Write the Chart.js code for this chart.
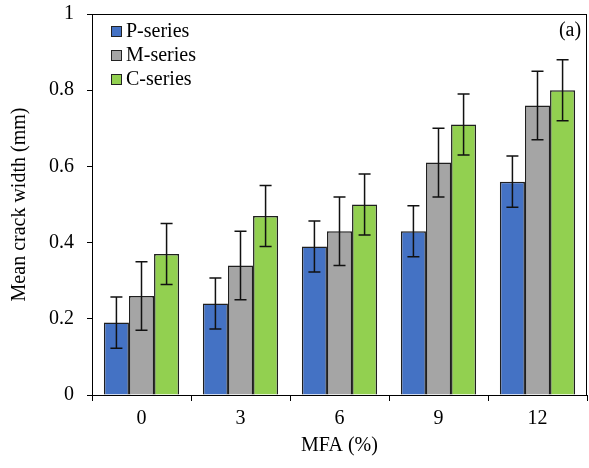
<!DOCTYPE html>
<html>
<head>
<meta charset="utf-8">
<title>Mean crack width vs MFA</title>
<script src="https://cdn.jsdelivr.net/npm/chart.js@4.4.1/dist/chart.umd.min.js"></script>
<style>
  html, body { margin: 0; padding: 0; background: #fff; }
  #chart { display: block; }
</style>
</head>
<body>
<canvas id="chart" width="589" height="468"></canvas>
<script>
const categories = ['0', '3', '6', '9', '12'];
const seriesNames = ['P-series', 'M-series', 'C-series'];
const pSeries = [0.19, 0.24, 0.39, 0.43, 0.56];
const mSeries = [0.26, 0.34, 0.43, 0.61, 0.76];
const cSeries = [0.37, 0.47, 0.50, 0.71, 0.80];
const pError = [0.067, 0.067, 0.067, 0.067, 0.067];
const mError = [0.09, 0.09, 0.09, 0.09, 0.09];
const cError = [0.08, 0.08, 0.08, 0.08, 0.08];
const yTickLabels = ['0', '0.2', '0.4', '0.6', '0.8', '1'];

const colors = ['#4472C4', '#A5A5A5', '#92D050'];
const FONT = '"Liberation Serif", "Times New Roman", serif';

// vertical error bars with flat caps, drawn on top of the bars
const errorBars = {
  id: 'errorBars',
  afterDatasetsDraw(chart) {
    const { ctx, scales: { y } } = chart;
    ctx.save();
    ctx.strokeStyle = '#111';
    ctx.lineWidth = 1.5;
    chart.data.datasets.forEach((ds, i) => {
      const meta = chart.getDatasetMeta(i);
      meta.data.forEach((bar, j) => {
        const v = ds.data[j], e = ds.errors[j];
        const top = y.getPixelForValue(v + e);
        const bottom = y.getPixelForValue(v - e);
        ctx.beginPath();
        ctx.moveTo(bar.x, top); ctx.lineTo(bar.x, bottom);
        ctx.moveTo(bar.x - 6, top); ctx.lineTo(bar.x + 6, top);
        ctx.moveTo(bar.x - 6, bottom); ctx.lineTo(bar.x + 6, bottom);
        ctx.stroke();
      });
    });
    ctx.restore();
  }
};

// box around the plot, legend in the upper left, panel tag in the upper right
const frameAndLegend = {
  id: 'frameAndLegend',
  afterDraw(chart) {
    const { ctx, chartArea: a } = chart;
    ctx.save();
    ctx.strokeStyle = '#000';
    ctx.lineWidth = 1;
    ctx.strokeRect(a.left + 0.5, a.top + 0.5, a.right - a.left - 1, a.bottom - a.top);

    ctx.font = '20px ' + FONT;
    ctx.textBaseline = 'middle';
    ctx.fillStyle = '#000';
    chart.data.datasets.forEach((ds, i) => {
      const cy = a.top + 17 + i * 24;
      ctx.fillStyle = ds.backgroundColor;
      ctx.fillRect(a.left + 19, cy - 5, 11, 11);
      ctx.strokeStyle = '#222';
      ctx.strokeRect(a.left + 19.5, cy - 4.5, 10, 10);
      ctx.fillStyle = '#000';
      ctx.textAlign = 'left';
      ctx.fillText(ds.label, a.left + 34, cy + 1);
    });

    ctx.textAlign = 'center';
    ctx.fillText('(a)', a.right - 17, a.top + 17);
    ctx.restore();
  }
};

new Chart(document.getElementById('chart'), {
  type: 'bar',
  data: {
    labels: categories,
    datasets: [
      { label: seriesNames[0], data: pSeries, errors: pError, backgroundColor: colors[0] },
      { label: seriesNames[1], data: mSeries, errors: mError, backgroundColor: colors[1] },
      { label: seriesNames[2], data: cSeries, errors: cError, backgroundColor: colors[2] }
    ].map(ds => Object.assign(ds, {
      borderColor: '#1f1f1f',
      borderWidth: 1.5,
      categoryPercentage: 0.76,
      barPercentage: 1.0
    }))
  },
  options: {
    responsive: false,
    animation: false,
    devicePixelRatio: 1,
    layout: { padding: { top: 14, right: 2, bottom: 0, left: 0 } },
    plugins: {
      legend: { display: false },
      tooltip: { enabled: false }
    },
    scales: {
      x: {
        grid: {
          offset: true,
          drawOnChartArea: false,
          drawTicks: true,
          tickLength: 6,
          color: '#000'
        },
        border: { color: '#000', width: 1 },
        ticks: { color: '#000', padding: 6, font: { family: FONT, size: 20 } },
        title: {
          display: true,
          text: 'MFA (%)',
          color: '#000',
          font: { family: FONT, size: 20 },
          padding: { top: 0, bottom: 10 }
        },
        afterFit(scale) {
          scale.height = 73;
          scale.paddingLeft = 0;
          scale.paddingRight = 0;
        }
      },
      y: {
        min: 0,
        max: 1,
        ticks: {
          stepSize: 0.2,
          color: '#000',
          padding: 13,
          font: { family: FONT, size: 20 },
          callback: (v, i) => yTickLabels[i]
        },
        grid: {
          drawOnChartArea: false,
          drawTicks: true,
          tickLength: 5,
          color: '#000'
        },
        border: { color: '#000', width: 1 },
        title: {
          display: true,
          text: 'Mean crack width (mm)',
          color: '#000',
          font: { family: FONT, size: 20 },
          padding: { top: 8, bottom: 0 }
        },
        afterFit(scale) {
          scale.width = 92;
          scale.paddingTop = 0;
          scale.paddingBottom = 0;
        }
      }
    }
  },
  plugins: [errorBars, frameAndLegend]
});
</script>
</body>
</html>
